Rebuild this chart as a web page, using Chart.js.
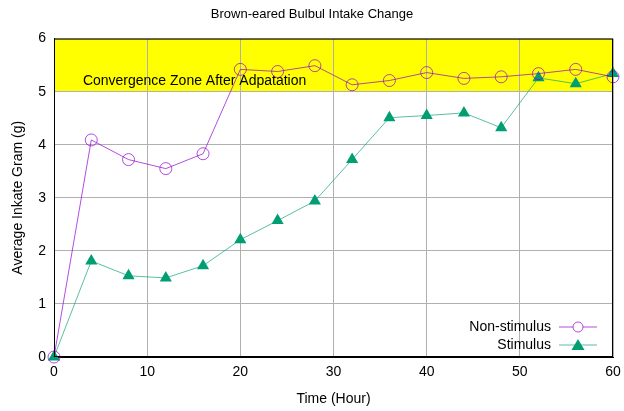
<!DOCTYPE html>
<html>
<head>
<meta charset="utf-8">
<script src="https://cdn.jsdelivr.net/npm/chart.js@4"></script>
<style>
  html, body { margin: 0; padding: 0; background: #fff; }
  #wrap { width: 624px; height: 411px; }
</style>
</head>
<body>
<div id="wrap"><canvas id="intakeChart"></canvas></div>
<script>
// Data
const hours = [0, 4, 8, 12, 16, 20, 24, 28, 32, 36, 40, 44, 48, 52, 56, 60];
const nonStimulus = [0, 4.09, 3.72, 3.55, 3.83, 5.42, 5.38, 5.49, 5.13, 5.21, 5.36, 5.25, 5.28, 5.34, 5.42, 5.28];
const stimulus = [0, 1.81, 1.53, 1.49, 1.72, 2.21, 2.57, 2.94, 3.72, 4.51, 4.55, 4.60, 4.32, 5.26, 5.15, 5.34];
const zoneRange = [5, 6];
const zoneLabel = 'Convergence Zone After Adpatation';
const seriesNames = ['Non-stimulus', 'Stimulus'];

const FONT = 'Liberation Sans, Arial, sans-serif';
const purple = 'rgba(148, 0, 211, 0.7)';
const green = '#009e73';
const greenLine = 'rgba(0, 158, 115, 0.65)';

function toPoints(xs, ys) {
    return xs.map((x, i) => ({ x: x, y: ys[i] }));
}

// yellow band, label, frame and legend
const decorPlugin = {
    id: 'decor',
    beforeDraw(chart) {
        const { ctx, chartArea, scales } = chart;
        const yTop = scales.y.getPixelForValue(zoneRange[1]);
        const yBot = scales.y.getPixelForValue(zoneRange[0]);
        ctx.save();
        ctx.fillStyle = '#ffff00';
        ctx.fillRect(chartArea.left, yTop, chartArea.right - chartArea.left, yBot - yTop);
        ctx.restore();
    },
    beforeDatasetsDraw(chart) {
        const { ctx, scales } = chart;
        ctx.save();
        ctx.font = '14px ' + FONT;
        ctx.fillStyle = '#000';
        ctx.textBaseline = 'middle';
        ctx.fillText(zoneLabel, scales.x.getPixelForValue(3.1), scales.y.getPixelForValue(5.2));
        ctx.restore();
    },
    afterDraw(chart) {
        const { ctx, chartArea } = chart;
        ctx.save();
        // frame
        ctx.strokeStyle = '#000';
        ctx.lineWidth = 1;
        ctx.strokeRect(chartArea.left + 0.5, chartArea.top + 0.5,
            chartArea.right - chartArea.left - 1, chartArea.bottom - chartArea.top - 1);

        // legend in lower right corner
        const textRight = chartArea.right - 62;
        const lineL = chartArea.right - 54;
        const lineR = chartArea.right - 16;
        const mid = (lineL + lineR) / 2;
        const rows = [chartArea.bottom - 30, chartArea.bottom - 12];
        ctx.font = '14px ' + FONT;
        ctx.textAlign = 'right';
        ctx.textBaseline = 'middle';
        ctx.fillStyle = '#000';
        seriesNames.forEach((name, i) => ctx.fillText(name, textRight, rows[i]));

        ctx.lineWidth = 1;
        ctx.strokeStyle = purple;
        ctx.beginPath();
        ctx.moveTo(lineL, rows[0]); ctx.lineTo(lineR, rows[0]);
        ctx.stroke();
        ctx.beginPath();
        ctx.arc(mid, rows[0], 5, 0, Math.PI * 2);
        ctx.fillStyle = '#fff';
        ctx.fill();
        ctx.stroke();

        ctx.strokeStyle = greenLine;
        ctx.beginPath();
        ctx.moveTo(lineL, rows[1]); ctx.lineTo(lineR, rows[1]);
        ctx.stroke();
        ctx.fillStyle = green;
        ctx.beginPath();
        ctx.moveTo(mid, rows[1] - 6);
        ctx.lineTo(mid + 6.5, rows[1] + 5);
        ctx.lineTo(mid - 6.5, rows[1] + 5);
        ctx.closePath();
        ctx.fill();
        ctx.restore();
    }
};

const ctx = document.getElementById('intakeChart').getContext('2d');
new Chart(ctx, {
    type: 'line',
    data: {
        datasets: [{
            label: seriesNames[0],
            data: toPoints(hours, nonStimulus),
            borderColor: purple,
            borderWidth: 1,
            pointStyle: 'circle',
            pointRadius: 6,
            pointBorderWidth: 1,
            pointBorderColor: purple,
            pointBackgroundColor: 'rgba(0,0,0,0)',
            tension: 0,
            clip: false
        }, {
            label: seriesNames[1],
            data: toPoints(hours, stimulus),
            borderColor: greenLine,
            borderWidth: 1,
            pointStyle: 'triangle',
            pointRadius: 7,
            pointBorderWidth: 0,
            pointBorderColor: green,
            pointBackgroundColor: green,
            tension: 0,
            clip: false
        }]
    },
    options: {
        responsive: true,
        maintainAspectRatio: false,
        animation: false,
        layout: { padding: 0 },
        plugins: {
            legend: { display: false },
            tooltip: { enabled: false },
            title: {
                display: true,
                text: 'Brown-eared Bulbul Intake Change',
                color: '#000',
                font: { family: FONT, size: 13, weight: 'normal' },
                padding: { top: 7, bottom: 16 }
            }
        },
        scales: {
            x: {
                type: 'linear',
                min: 0,
                max: 60,
                afterFit: function(scale) {
                    scale.height = 54;
                    scale.paddingLeft = 0;
                    scale.paddingRight = 11;
                },
                ticks: {
                    stepSize: 10,
                    color: '#000',
                    padding: 7,
                    maxRotation: 0,
                    font: { family: FONT, size: 14 }
                },
                grid: { color: '#b0b0b0', drawTicks: false },
                border: { color: '#000' },
                title: {
                    display: true,
                    text: 'Time (Hour)',
                    color: '#000',
                    font: { family: FONT, size: 14 },
                    padding: { top: 12, bottom: 3 }
                }
            },
            y: {
                min: 0,
                max: 6,
                afterFit: function(scale) { scale.width = 54; },
                ticks: {
                    stepSize: 1,
                    color: '#000',
                    padding: 8,
                    font: { family: FONT, size: 14 }
                },
                grid: { color: '#b0b0b0', drawTicks: false },
                border: { color: '#000' },
                title: {
                    display: true,
                    text: 'Average Inkate Gram (g)',
                    color: '#000',
                    font: { family: FONT, size: 14 },
                    padding: { top: 10 }
                }
            }
        }
    },
    plugins: [decorPlugin]
});
</script>
</body>
</html>
